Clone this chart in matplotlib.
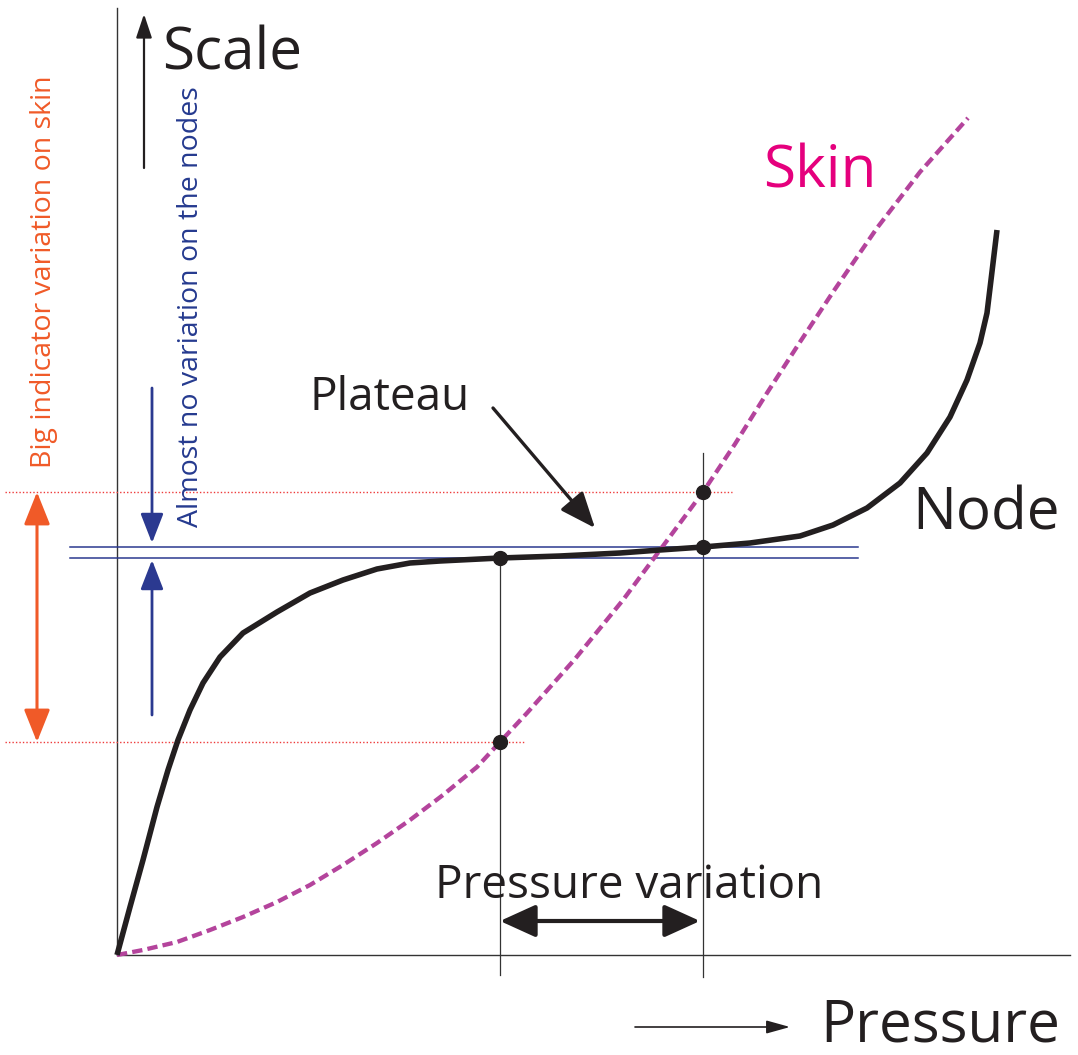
import matplotlib
matplotlib.use("Agg")
import matplotlib.pyplot as plt

plt.rcParams["font.family"] = ["Open Sans", "DejaVu Sans"]

# curve data: pressure (x) vs scale (y), arbitrary units
node_pressure = [0, 13, 26, 40, 51, 61, 73, 86, 103, 126, 160, 193, 226, 260, 293, 323,
                 383, 443, 503, 543, 586, 633, 683, 716, 750, 783, 810, 833, 850, 863,
                 870, 874, 880]
node_scale = [0, 48, 95, 148, 185, 215, 245, 272, 298, 322, 343, 362, 375, 386, 392, 394,
              397, 399, 402, 405, 408, 412, 419, 430, 447, 472, 502, 538, 575, 612,
              642, 675, 725]

skin_pressure = [0, 26, 60, 93, 126, 160, 193, 226, 260, 293, 326, 360, 383, 410, 458,
                 506, 543, 586, 618, 650, 683, 716, 760, 803, 851]
skin_scale = [0, 5, 13, 25, 38, 53, 70, 90, 112, 135, 160, 188, 213, 242, 296,
              355, 405, 463, 511, 562, 613, 663, 727, 783, 837]

# pressure values where the variation is measured
p_low, p_high = 383, 586
node_points = [397, 408]
skin_points = [213, 463]

NODE_COLOR = "#231f20"
SKIN_COLOR = "#b4449c"
BLUE = "#2b3990"
ORANGE = "#f05a28"
RED = "#ee3b3b"

fig = plt.figure(figsize=(10.78, 10.55), dpi=100)
ax = fig.add_axes([0, 0, 1, 1])
ax.set_xlim(-117, 961)
ax.set_ylim(-100, 955)
ax.axis("off")

# axes lines
ax.plot([0, 0], [0, 947], color="#333333", lw=1.0)
ax.plot([0, 953], [0, 0], color="#333333", lw=1.0)

# guides at the two pressures
ax.plot([p_low, p_low], [-20, node_points[0] + 5], color="#333333", lw=0.9)
ax.plot([p_high, p_high], [-22, 502], color="#333333", lw=0.9)

# blue band around the plateau
for lvl in node_points:
    ax.plot([-47, 741], [lvl, lvl], color=BLUE, lw=1.1)

# red dotted levels on skin
ax.plot([-112, 615], [skin_points[1]] * 2, color=RED, lw=1.0, ls=(0, (1, 1.5)))
ax.plot([-112, 408], [skin_points[0]] * 2, color=RED, lw=1.0, ls=(0, (1, 1.5)))

# curves
ax.plot(skin_pressure, skin_scale, color=SKIN_COLOR, lw=3.1, ls=(0, (2.4, 1.2)))
ax.plot(node_pressure, node_scale, color=NODE_COLOR, lw=4.0,
        solid_capstyle="butt", solid_joinstyle="round")

# dots
ax.plot([p_low, p_high], node_points, "o", color=NODE_COLOR, ms=10)
ax.plot([p_low, p_high], skin_points, "o", color=NODE_COLOR, ms=10)

# arrows
def arrow(x0, y0, x1, y1, color, lw, style, scale):
    ax.annotate("", xy=(x1, y1), xytext=(x0, y0),
                arrowprops=dict(arrowstyle=style, color=color, lw=lw,
                                mutation_scale=scale, shrinkA=0, shrinkB=0))

arrow(27, 787, 27, 941, NODE_COLOR, 1.6, "-|>,head_length=0.9,head_width=0.3", 16)
arrow(518, -72, 673, -72, NODE_COLOR, 1.2, "-|>,head_length=0.9,head_width=0.25", 16)
arrow(376, 547, 478, 427, NODE_COLOR, 2.4, "-|>,head_length=1.1,head_width=0.45", 20)
arrow(383, 34, 583, 34, NODE_COLOR, 3.0, "<|-|>,head_length=1.1,head_width=0.5", 20)
arrow(-80, skin_points[0], -80, skin_points[1], ORANGE, 2.2,
      "<|-|>,head_length=1.0,head_width=0.4", 20)
arrow(35, 567, 35, node_points[1] + 4, BLUE, 2.0, "-|>,head_length=0.9,head_width=0.35", 20)
arrow(35, 240, 35, node_points[0] - 2, BLUE, 2.0, "-|>,head_length=0.9,head_width=0.35", 20)

# labels
ax.text(45, 886, "Scale", fontsize=42, color=NODE_COLOR, va="baseline")
ax.text(646, 767, "Skin", fontsize=42, color="#e5007d", va="baseline")
ax.text(795, 425, "Node", fontsize=42, color=NODE_COLOR, va="baseline")
ax.text(193, 545, "Plateau", fontsize=33, color=NODE_COLOR, va="baseline")
ax.text(318, 57, "Pressure variation", fontsize=33, color=NODE_COLOR, va="baseline")
ax.text(703, -86, "Pressure", fontsize=42, color=NODE_COLOR, va="baseline")
ax.text(-73, 683, "Big indicator variation on skin", fontsize=20.5, color=ORANGE,
        rotation=90, ha="center", va="center")
ax.text(74, 648, "Almost no variation on the nodes", fontsize=20.5, color="#253a8f",
        rotation=90, ha="center", va="center")

fig.savefig("out.png", dpi=100)
